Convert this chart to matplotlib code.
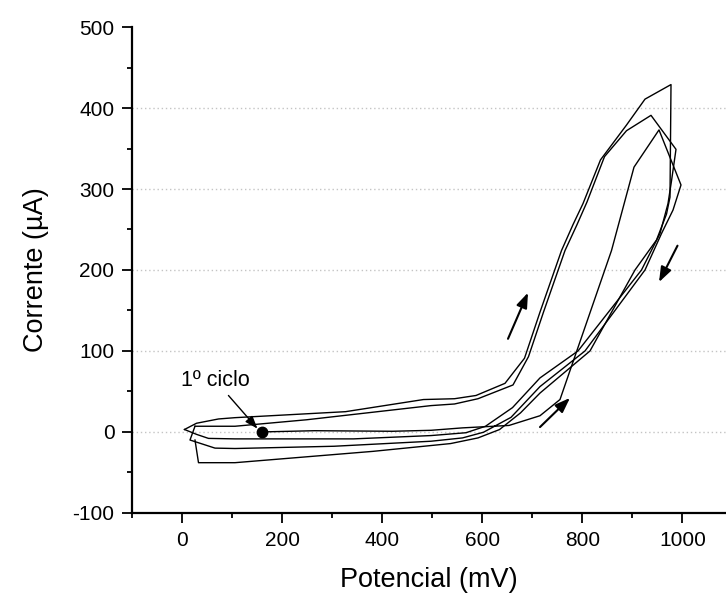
import matplotlib

matplotlib.use("Agg")
import matplotlib.pyplot as plt
from matplotlib.ticker import MultipleLocator

plt.rcParams.update({"font.family": ["Liberation Sans", "DejaVu Sans"], "font.size": 15,
                     "axes.unicode_minus": False})

# cycle 1: starts at the marked point, forward scan, then return scan
c1_mv = [160, 264, 420, 497, 560, 653, 715, 755, 858, 903, 953, 997, 981, 958, 925,
         805, 715, 657, 602, 560, 497, 303, 105, 65, 15, 25]
c1_ua = [0, 1.5, 0.8, 2, 5, 8, 20, 40, 224, 327, 373, 305, 274, 245, 200,
         100, 56, 18, -0.4, -7.4, -11.5, -17.7, -20.5, -20, -10, 7]

# cycle 2
c2_mv = [25, 105, 248, 497, 544, 591, 661, 692, 722, 765, 789, 809, 844, 888, 937,
         987, 978, 971, 955, 918, 791, 715, 660, 606, 567, 497, 342, 105, 52, 28, 4]
c2_ua = [7, 7, 15, 32.5, 34.5, 41, 58, 93, 148, 224, 256, 284, 340, 372, 391,
         349, 310, 282, 245, 200, 100, 66.7, 30, 7, -1, -4.5, -8.6, -8.6, -8, -3, 3]

# cycle 3
c3_mv = [4, 28, 72, 105, 326, 482, 544, 587, 645, 684, 715, 758, 781, 801, 836, 888,
         925, 977, 975, 968, 948, 905, 815, 715, 676, 634, 591, 536, 381, 105, 32, 25]
c3_ua = [3, 10.7, 16, 17.6, 25, 40, 41, 45, 60, 91, 148, 224, 256, 282, 336, 379,
         411, 429, 290, 269, 237, 200, 100, 48, 23.5, 2.9, -7.4, -14.4, -24, -38, -38, -10]

start_mv, start_ua = 160, 0

fig = plt.figure(figsize=(7.26, 5.95), dpi=100)
ax = fig.add_axes([0.1825, 0.138, 0.8175, 0.8165])

for xs, ys in ((c1_mv, c1_ua), (c2_mv, c2_ua), (c3_mv, c3_ua)):
    ax.plot(xs, ys, color="black", lw=1.0)
ax.plot(start_mv, start_ua, "o", color="black", ms=7.5)

# scan direction arrows
arrow = dict(arrowstyle="-|>,head_length=0.6,head_width=0.22", color="black", lw=1.5,
             shrinkA=0, shrinkB=0)
ax.annotate("", xy=(691, 172), xytext=(651, 115), arrowprops=arrow)
ax.annotate("", xy=(953, 185), xytext=(990, 230), arrowprops=arrow)
ax.annotate("", xy=(775, 42), xytext=(715, 6), arrowprops=arrow)

ax.annotate("1º ciclo", xy=(150, 4), xytext=(65, 64), ha="center", va="center",
            fontsize=15.5,
            arrowprops=dict(arrowstyle="-|>,head_length=0.5,head_width=0.18",
                            color="black", lw=1.0, shrinkA=2, shrinkB=0))

ax.set_xlim(-100, 1087)
ax.set_ylim(-100, 500)
ax.xaxis.set_major_locator(MultipleLocator(200))
ax.xaxis.set_minor_locator(MultipleLocator(100))
ax.yaxis.set_major_locator(MultipleLocator(100))
ax.yaxis.set_minor_locator(MultipleLocator(50))
ax.tick_params(which="major", direction="out", length=7, width=1.3, pad=6, labelsize=15)
ax.tick_params(which="minor", direction="out", length=3.5, width=1.3)

for side in ("top", "right"):
    ax.spines[side].set_visible(False)
for side in ("left", "bottom"):
    ax.spines[side].set_linewidth(1.6)

for yv in (0, 100, 200, 300, 400):
    ax.axhline(yv, color="#c4c4c4", lw=1.0, ls=(0, (1, 2)), zorder=0)

ax.set_xlabel("Potencial (mV)", fontsize=19.5, labelpad=12)
ax.set_ylabel("Corrente (\u00b5A)", fontsize=19.5, labelpad=17)

fig.savefig("out.png", dpi=100)
